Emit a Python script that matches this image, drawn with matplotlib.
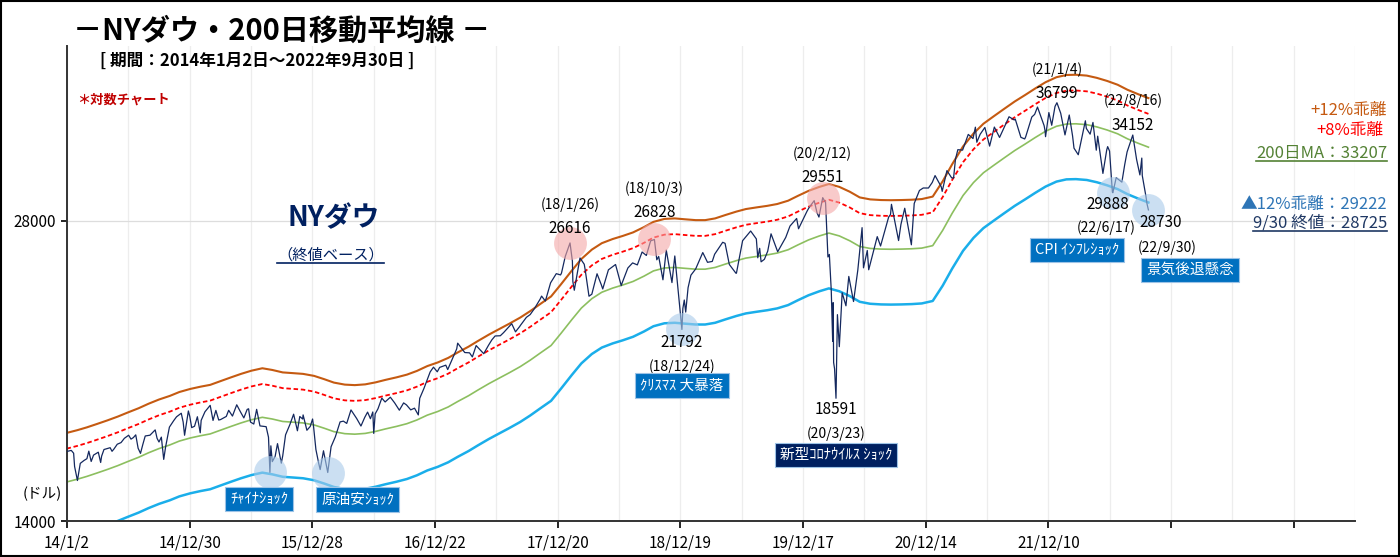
import numpy as np
import matplotlib
matplotlib.use("Agg")
import matplotlib.pyplot as plt
from matplotlib.lines import Line2D
from matplotlib.patches import Rectangle
from matplotlib.ticker import NullLocator

plt.rcParams["font.family"] = ["Noto Sans CJK JP", "DejaVu Sans"]

# DATA  (NY Dow closes, trading-day category axis)
dow_2014 = [("2014-01-02", 16441), ("2014-01-15", 16481), ("2014-01-22", 16373), ("2014-01-24", 15879),
            ("2014-02-03", 15373), ("2014-02-11", 15994), ("2014-02-21", 16103), ("2014-03-03", 16168),
            ("2014-03-07", 16452), ("2014-03-14", 16065), ("2014-03-21", 16302), ("2014-04-04", 16412),
            ("2014-04-11", 16027), ("2014-04-15", 16262), ("2014-04-22", 16514), ("2014-05-09", 16583),
            ("2014-05-15", 16446), ("2014-05-21", 16533), ("2014-05-30", 16717), ("2014-06-11", 16781),
            ("2014-06-20", 16947), ("2014-07-03", 17068), ("2014-07-10", 16915), ("2014-07-17", 16976),
            ("2014-07-24", 17083), ("2014-07-31", 16563), ("2014-08-07", 16368), ("2014-08-14", 16713),
            ("2014-08-21", 17039), ("2014-09-04", 17069), ("2014-09-19", 17280), ("2014-09-25", 16946),
            ("2014-10-01", 16804), ("2014-10-08", 16994), ("2014-10-15", 16142), ("2014-10-21", 16615),
            ("2014-10-31", 17391), ("2014-11-13", 17652), ("2014-11-21", 17810), ("2014-12-05", 17958),
            ("2014-12-11", 17597), ("2014-12-16", 17068), ("2014-12-26", 18053), ("2014-12-31", 17823)]
dow_2015 = [("2015-01-06", 17372), ("2015-01-14", 17427), ("2015-01-22", 17813), ("2015-01-30", 17165),
            ("2015-02-03", 17666), ("2015-02-13", 18019), ("2015-03-02", 18288), ("2015-03-10", 17662),
            ("2015-03-18", 18076), ("2015-03-26", 17679), ("2015-04-01", 17698), ("2015-04-17", 17826),
            ("2015-04-24", 18080), ("2015-05-06", 17841), ("2015-05-19", 18312), ("2015-05-29", 18011),
            ("2015-06-09", 17765), ("2015-06-18", 18116), ("2015-06-23", 18144), ("2015-06-29", 17596),
            ("2015-07-08", 17515), ("2015-07-16", 18120), ("2015-07-27", 17440), ("2015-08-06", 17419),
            ("2015-08-13", 17409), ("2015-08-20", 16990), ("2015-08-25", 15666), ("2015-08-27", 16655),
            ("2015-09-01", 16058), ("2015-09-09", 16253), ("2015-09-16", 16740), ("2015-09-28", 16001),
            ("2015-10-01", 16273), ("2015-10-09", 17084), ("2015-10-22", 17489), ("2015-11-03", 17918),
            ("2015-11-13", 17245), ("2015-11-20", 17823), ("2015-11-30", 17720), ("2015-12-01", 17888),
            ("2015-12-11", 17265), ("2015-12-22", 17417), ("2015-12-29", 17720), ("2015-12-31", 17425)]
dow_2016 = [("2016-01-07", 16514), ("2016-01-15", 15988), ("2016-01-20", 15766), ("2016-01-29", 16466),
            ("2016-02-11", 15660), ("2016-02-22", 16620), ("2016-03-04", 17006), ("2016-03-18", 17602),
            ("2016-03-29", 17633), ("2016-04-07", 17541), ("2016-04-20", 18096), ("2016-05-06", 17740),
            ("2016-05-19", 17435), ("2016-05-31", 17787), ("2016-06-08", 18005), ("2016-06-16", 17733),
            ("2016-06-23", 18011), ("2016-06-27", 17140), ("2016-06-30", 17930), ("2016-07-08", 18147),
            ("2016-07-20", 18595), ("2016-07-29", 18432), ("2016-08-15", 18636), ("2016-08-26", 18395),
            ("2016-09-09", 18085), ("2016-09-22", 18392), ("2016-09-30", 18308), ("2016-10-13", 18098),
            ("2016-10-25", 18169), ("2016-11-04", 17888), ("2016-11-09", 18589), ("2016-11-22", 19023),
            ("2016-12-09", 19757), ("2016-12-20", 19975), ("2016-12-30", 19763)]
dow_2017 = [("2017-01-06", 19964), ("2017-01-25", 20068), ("2017-01-31", 19864), ("2017-02-10", 20269),
            ("2017-02-27", 20837), ("2017-03-01", 21115), ("2017-03-22", 20661), ("2017-04-05", 20648),
            ("2017-04-13", 20453), ("2017-04-25", 20997), ("2017-05-17", 20606), ("2017-05-31", 21009),
            ("2017-06-09", 21272), ("2017-06-20", 21468), ("2017-07-05", 21479), ("2017-07-14", 21638),
            ("2017-08-08", 22085), ("2017-08-18", 21674), ("2017-08-31", 21948), ("2017-09-01", 21988),
            ("2017-09-20", 22413), ("2017-10-02", 22557), ("2017-10-13", 22872), ("2017-10-31", 23377),
            ("2017-11-03", 23539), ("2017-11-15", 23271), ("2017-11-30", 24272), ("2017-12-18", 24792),
            ("2017-12-29", 24719)]
dow_2018 = [("2018-01-02", 24824), ("2018-01-12", 25803), ("2018-01-26", 26616), ("2018-02-02", 25520),
            ("2018-02-05", 24345), ("2018-02-08", 23860), ("2018-02-26", 25709), ("2018-03-09", 25335),
            ("2018-03-13", 25008), ("2018-03-23", 23533), ("2018-04-02", 23644), ("2018-04-17", 24786),
            ("2018-04-30", 24163), ("2018-05-03", 23930), ("2018-05-21", 25013), ("2018-06-11", 25322),
            ("2018-06-27", 24117), ("2018-06-29", 24271), ("2018-07-17", 25119), ("2018-07-31", 25415),
            ("2018-08-14", 25299), ("2018-08-28", 26064), ("2018-09-10", 25857), ("2018-09-21", 26744),
            ("2018-10-03", 26828), ("2018-10-10", 25599), ("2018-10-16", 25798), ("2018-10-29", 24443),
            ("2018-11-07", 26180), ("2018-11-23", 24286), ("2018-12-03", 25826), ("2018-12-10", 24423),
            ("2018-12-24", 21792), ("2018-12-26", 22878), ("2018-12-31", 23327)]
dow_2019 = [("2019-01-03", 22686), ("2019-01-10", 24001), ("2019-01-18", 24706), ("2019-02-01", 25063),
            ("2019-02-22", 26031), ("2019-03-08", 25450), ("2019-03-22", 25502), ("2019-03-29", 25929),
            ("2019-04-23", 26656), ("2019-04-30", 26593), ("2019-05-13", 25324), ("2019-05-31", 24815),
            ("2019-06-03", 24819), ("2019-06-20", 26753), ("2019-07-15", 27359), ("2019-07-31", 26864),
            ("2019-08-05", 25718), ("2019-08-09", 26287), ("2019-08-14", 25479), ("2019-08-23", 25629),
            ("2019-09-03", 26118), ("2019-09-12", 27182), ("2019-10-02", 26079), ("2019-10-25", 26958),
            ("2019-11-07", 27675), ("2019-11-27", 28164), ("2019-12-03", 27502), ("2019-12-27", 28645)]
dow_2020 = [("2020-01-02", 28868), ("2020-01-17", 29348), ("2020-01-27", 28536), ("2020-01-31", 28256),
            ("2020-02-12", 29551), ("2020-02-20", 29219), ("2020-02-27", 25767), ("2020-03-03", 25917),
            ("2020-03-09", 23851), ("2020-03-12", 21200), ("2020-03-13", 23185), ("2020-03-16", 20189),
            ("2020-03-18", 19898), ("2020-03-23", 18591), ("2020-03-26", 22552), ("2020-04-01", 20943),
            ("2020-04-09", 23719), ("2020-04-21", 23018), ("2020-04-29", 24634), ("2020-05-13", 23247),
            ("2020-05-26", 24995), ("2020-06-08", 27572), ("2020-06-11", 25128), ("2020-06-23", 26156),
            ("2020-06-26", 25016), ("2020-07-22", 27006), ("2020-07-31", 26428), ("2020-08-25", 28249),
            ("2020-08-31", 28430), ("2020-09-02", 29100), ("2020-09-23", 26763), ("2020-09-30", 27782),
            ("2020-10-12", 28837), ("2020-10-30", 26502), ("2020-11-09", 29158), ("2020-11-24", 30046),
            ("2020-12-04", 30218), ("2020-12-21", 30216), ("2020-12-31", 30606)]
dow_2021 = [("2021-01-08", 31098), ("2021-01-27", 30303), ("2021-01-29", 29983), ("2021-02-12", 31458),
            ("2021-02-26", 30932), ("2021-03-04", 30924), ("2021-03-10", 32297), ("2021-03-17", 33015),
            ("2021-03-31", 32982), ("2021-04-16", 34200), ("2021-04-30", 33875), ("2021-05-07", 34777),
            ("2021-05-12", 33587), ("2021-05-21", 34208), ("2021-06-04", 34756), ("2021-06-18", 33290),
            ("2021-06-30", 34503), ("2021-07-02", 34786), ("2021-07-19", 33962), ("2021-08-16", 35625),
            ("2021-08-31", 35361), ("2021-09-02", 35443), ("2021-09-20", 33970), ("2021-09-30", 33844),
            ("2021-10-04", 34002), ("2021-10-21", 35603), ("2021-10-29", 35820), ("2021-11-08", 36432),
            ("2021-11-26", 34899), ("2021-11-30", 34484), ("2021-12-01", 34022), ("2021-12-10", 35971),
            ("2021-12-20", 34932), ("2021-12-29", 36488)]
dow_2022 = [("2022-01-04", 36799), ("2022-01-14", 35912), ("2022-01-27", 34160), ("2022-02-09", 35768),
            ("2022-02-18", 34079), ("2022-02-23", 33132), ("2022-03-08", 32633), ("2022-03-29", 35294),
            ("2022-03-31", 34678), ("2022-04-12", 34220), ("2022-04-20", 35161), ("2022-04-29", 32977),
            ("2022-05-04", 34061), ("2022-05-19", 31253), ("2022-05-31", 32990), ("2022-06-02", 33248),
            ("2022-06-08", 32910), ("2022-06-16", 29927), ("2022-06-17", 29888), ("2022-06-28", 30947),
            ("2022-07-14", 30630), ("2022-07-22", 31899), ("2022-07-29", 32845), ("2022-08-16", 34152),
            ("2022-08-26", 32283), ("2022-09-06", 31145), ("2022-09-12", 32381), ("2022-09-13", 31105),
            ("2022-09-23", 29590), ("2022-09-27", 29135), ("2022-09-30", 28725)]

# 200-day moving average, read at the start of each month (Jan 2014 - Sep 2022) + last day
ma_2014 = [15320, 15420, 15520, 15640, 15770, 15910, 16060, 16220, 16390, 16550, 16690, 16840]
ma_2015 = [16960, 17050, 17120, 17270, 17420, 17560, 17690, 17790, 17720, 17620, 17590, 17560]
ma_2016 = [17480, 17350, 17210, 17130, 17110, 17140, 17220, 17320, 17420, 17530, 17680, 17880]
ma_2017 = [18030, 18220, 18450, 18700, 18950, 19230, 19480, 19720, 20000, 20300, 20650, 21000]
ma_2018 = [21600, 22300, 22900, 23400, 23750, 23980, 24150, 24350, 24650, 24950, 25120, 25150]
ma_2019 = [25100, 25050, 25050, 25150, 25350, 25550, 25700, 25800, 25890, 26000, 26200, 26500]
ma_2020 = [26800, 27050, 27230, 27050, 26750, 26400, 26280, 26240, 26230, 26240, 26260, 26300]
ma_2021 = [26450, 27400, 28500, 29700, 30600, 31300, 31850, 32400, 32950, 33450, 33950, 34450]
ma_2022 = [34850, 35030, 35050, 34980, 34800, 34550, 34250, 33850, 33500]
ma_last = ("2022-09-30", 33207)

bands = [("+12%", 1.12), ("+8%", 1.08), ("MA", 1.00), ("-12%", 0.88)]

tick_labels = ["14/1/2", "14/12/30", "15/12/28", "16/12/22", "17/12/20",
               "18/12/19", "19/12/17", "20/12/14", "21/12/10", "", ""]

peaks = [("2018-01-26", 26616), ("2018-10-03", 26828), ("2020-02-12", 29551)]
lows = [("2015-08-25", 15666), ("2016-02-11", 15660), ("2018-12-24", 21792),
        ("2022-06-17", 29888), ("2022-09-30", 28725)]

START = np.datetime64("2014-01-02")
LAST = np.datetime64("2022-09-30")
N_DAYS = 2204  # trading-day index of the last close


def tday(dates):
    d = np.array(dates, dtype="datetime64[D]")
    return np.busday_count(START, d) * N_DAYS / np.busday_count(START, LAST)


dow = sorted(dow_2014 + dow_2015 + dow_2016 + dow_2017 + dow_2018 + dow_2019 + dow_2020 + dow_2021 + dow_2022)
dow_x = tday([d for d, v in dow])
dow_y = np.array([v for d, v in dow], dtype=float)

ma_dates = list(np.arange("2014-01", "2022-10", dtype="datetime64[M]").astype("datetime64[D]")) + [ma_last[0]]
ma_vals = np.array(ma_2014 + ma_2015 + ma_2016 + ma_2017 + ma_2018 + ma_2019 + ma_2020 + ma_2021 + ma_2022
                   + [ma_last[1]], dtype=float)
ma_x = tday(ma_dates)

# FIGURE
fig = plt.figure(figsize=(14, 5.57), dpi=100)
ax = fig.add_axes([67 / 1400, 36 / 557, 1288 / 1400, 475.5 / 557])

band_style = {
    "+12%": dict(color="#C55A11", lw=1.5),
    "+8%": dict(color="#FF0000", lw=1.3, ls=(0, (2.5, 1.5))),
    "MA": dict(color="#8CBF5F", lw=1.2),
    "-12%": dict(color="#1AAEEA", lw=1.8),
}
for name, f in bands:
    ax.plot(ma_x, ma_vals * f, zorder=2, **band_style[name])

ax.plot(dow_x, dow_y, color="#14285E", lw=0.9, zorder=3)

# circles
for d, v in peaks:
    ax.scatter(tday([d]), [v], s=560, color="#F4A7A7", alpha=0.6, lw=0, zorder=4)
for d, v in lows:
    ax.scatter(tday([d]), [v], s=560, color="#A9CBEA", alpha=0.6, lw=0, zorder=4)

# axes
ax.set_yscale("log")
ax.set_ylim(14000, 42000)
ax.set_xlim(0, 2625)
ax.set_yticks([14000, 28000])
ax.set_yticklabels(["14000", "28000"], fontsize=11)
ax.yaxis.set_minor_locator(NullLocator())
ax.set_xticks(np.arange(0, 2626, 250))
ax.set_xticklabels(tick_labels, fontsize=11)
ax.set_xticks(np.arange(125, 2626, 250), minor=True)
ax.tick_params(axis="x", which="minor", length=0)
ax.tick_params(axis="x", which="major", length=5, width=1.2, pad=5)
ax.tick_params(axis="y", length=4, width=1.2, pad=4)
ax.grid(axis="x", which="both", color="#EDEDED", lw=0.9, zorder=0)
ax.grid(axis="y", which="major", color="#DDDDDD", lw=0.9, zorder=0)
for s in ["top", "right"]:
    ax.spines[s].set_visible(False)
for s in ["left", "bottom"]:
    ax.spines[s].set_linewidth(1.4)
    ax.spines[s].set_color("#333333")


# point labels
def label(d, v, txt, dy, dx=0, **kw):
    ax.annotate(txt, (tday([d])[0], v), xytext=(dx, dy), textcoords="offset pixels",
                ha="center", va="center", fontsize=kw.pop("fontsize", 11), zorder=6, **kw)


label("2018-01-26", 26616, "26616", 14)
label("2018-01-26", 26616, "(18/1/26)", 38, fontsize=10)
label("2018-10-03", 26828, "26828", 27)
label("2018-10-03", 26828, "(18/10/3)", 51, fontsize=10)
label("2020-02-12", 29551, "29551", 20)
label("2020-02-12", 29551, "(20/2/12)", 44, fontsize=10)
label("2022-01-04", 36799, "36799", 9)
label("2022-01-04", 36799, "(21/1/4)", 33, fontsize=10)
label("2022-08-16", 34152, "34152", 10)
label("2022-08-16", 34152, "(22/8/16)", 34, fontsize=10)
label("2018-12-24", 21792, "21792", -13)
label("2018-12-24", 21792, "(18/12/24)", -37, fontsize=10)
label("2020-03-23", 18591, "18591", -11)
label("2020-03-23", 18591, "(20/3/23)", -35, fontsize=10)
label("2022-06-17", 29888, "29888", -12, dx=-5)
label("2022-06-17", 29888, "(22/6/17)", -35, dx=-7, fontsize=10)
label("2022-09-30", 28725, "28730", -13, dx=12)
label("2022-09-30", 28725, "(22/9/30)", -38, dx=19, fontsize=10)

blue_box = dict(boxstyle="square,pad=0.35", fc="#0070C0", ec="#9DC3E6", lw=0.8)
navy_box = dict(boxstyle="square,pad=0.35", fc="#002060", ec="#9DC3E6", lw=0.8)
label("2015-08-25", 15666, "ﾁｬｲﾅｼｮｯｸ", -27, dx=-11, fontsize=10.5, color="white", bbox=blue_box)
label("2016-02-11", 15660, "原油安ｼｮｯｸ", -27, dx=30, fontsize=10.5, color="white", bbox=blue_box)
label("2018-12-24", 21792, "ｸﾘｽﾏｽ 大暴落", -56, fontsize=10.5, color="white", bbox=blue_box)
label("2020-03-23", 18591, "新型ｺﾛﾅｳｲﾙｽ ｼｮｯｸ", -57, fontsize=10.5, color="white", bbox=navy_box)
label("2022-06-17", 29888, "CPI ｲﾝﾌﾚｼｮｯｸ", -57, dx=-36, fontsize=10.5, color="white", bbox=blue_box)
label("2022-09-30", 28725, "景気後退懸念", -60, dx=42, fontsize=10.5, color="white", bbox=blue_box)

# texts
W, H = 1400, 557


def ftext(x, y, s, **kw):
    return fig.text(x / W, 1 - y / H, s, **kw)


ftext(73, 31, "－NYダウ・200日移動平均線 －", fontsize=21, fontweight="bold", va="center")
ftext(100, 61, "[ 期間：2014年1月2日～2022年9月30日 ]", fontsize=12, fontweight="bold", va="center")
ftext(77, 100, "＊対数チャート", fontsize=9.5, fontweight="bold", color="#C00000", va="center")
ftext(288, 218, "NYダウ", fontsize=20, fontweight="bold", color="#002060", va="center")
t_base = ftext(277, 255, "（終値ベース）", fontsize=11, color="#002060", va="center")
ftext(42, 494, "(ドル)", fontsize=10.5, va="center", ha="center")

ftext(1387, 110, "+12%乖離", fontsize=12, color="#C55A11", ha="right", va="center")
ftext(1383, 130, "+8%乖離", fontsize=12, color="#FF0000", ha="right", va="center")
t_ma = ftext(1387, 153, "200日MA：33207", fontsize=12, color="#548235", ha="right", va="center")
ftext(1387, 205, "▲12%乖離：29222", fontsize=12, color="#2E75B6", ha="right", va="center")
t_last = ftext(1387, 223, "9/30 終値：28725", fontsize=12, color="#1F3864", ha="right", va="center")

fig.canvas.draw()
inv = fig.transFigure.inverted()
for t, c in [(t_base, "#002060"), (t_ma, "#548235"), (t_last, "#1F3864")]:
    bb = t.get_window_extent()
    (x0, y0), (x1, _) = inv.transform([[bb.x0, bb.y0 + 1], [bb.x1, bb.y0]])
    fig.add_artist(Line2D([x0, x1], [y0, y0], color=c, lw=1.2, transform=fig.transFigure))

fig.add_artist(Rectangle((0.001, 0.002), 0.998, 0.996, transform=fig.transFigure,
                         fill=False, ec="black", lw=1.5))

fig.savefig("out.png", dpi=100)
